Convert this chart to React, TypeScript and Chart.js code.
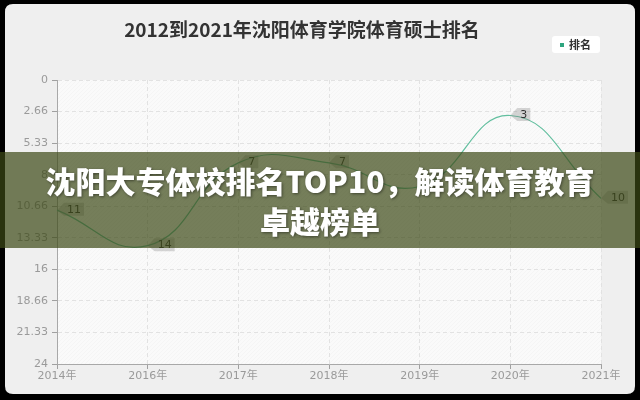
import React, { useEffect, useRef } from "react";
import { Chart, registerables } from "chart.js";

Chart.register(...registerables);

const TITLE = "2012到2021年沈阳体育学院体育硕士排名";
const SERIES_NAME = "排名";
const years = ["2014年", "2016年", "2017年", "2018年", "2019年", "2020年", "2021年"];
const ranks = [11, 14, 7, 7, 9, 3, 10];
const yTickValues = [0, 2.66, 5.33, 8, 10.66, 13.33, 16, 18.66, 21.33, 24];
const BANNER_LINE1 = "沈阳大专体校排名TOP10，解读体育教育";
const BANNER_LINE2 = "卓越榜单";

const TICK_FONT = '"DejaVu Sans", "Noto Sans CJK SC", sans-serif';
const CJK_FONT = '"Noto Sans CJK SC", "DejaVu Sans", sans-serif';

function roundRect(ctx: CanvasRenderingContext2D, x: number, y: number, w: number, h: number, r: number) {
  ctx.beginPath();
  ctx.moveTo(x + r, y);
  ctx.lineTo(x + w - r, y);
  ctx.quadraticCurveTo(x + w, y, x + w, y + r);
  ctx.lineTo(x + w, y + h - r);
  ctx.quadraticCurveTo(x + w, y + h, x + w - r, y + h);
  ctx.lineTo(x + r, y + h);
  ctx.quadraticCurveTo(x, y + h, x, y + h - r);
  ctx.lineTo(x, y + r);
  ctx.quadraticCurveTo(x, y, x + r, y);
  ctx.closePath();
}

const backgroundPlugin = {
  id: "bgDecor",
  beforeDraw(chart: any) {
    const { ctx, chartArea: a, width, height } = chart;
    ctx.save();
    ctx.fillStyle = "#000";
    ctx.fillRect(0, 0, width, height);
    roundRect(ctx, 5, 4, 630, 390, 8);
    ctx.fillStyle = "#efefef";
    ctx.fill();
    // plot area
    ctx.fillStyle = "#fafafa";
    ctx.fillRect(a.left, a.top, a.right - a.left, a.bottom - a.top);
    ctx.save();
    ctx.beginPath();
    ctx.rect(a.left, a.top, a.right - a.left, a.bottom - a.top);
    ctx.clip();
    ctx.strokeStyle = "rgba(0,0,0,0.018)";
    ctx.lineWidth = 1;
    ctx.beginPath();
    for (let s = a.left - (a.bottom - a.top); s < a.right; s += 4) {
      ctx.moveTo(s, a.bottom);
      ctx.lineTo(s + (a.bottom - a.top), a.top);
    }
    ctx.stroke();
    ctx.restore();
    // title
    ctx.fillStyle = "#333";
    ctx.font = `bold 19px ${CJK_FONT}`;
    ctx.textAlign = "center";
    ctx.textBaseline = "middle";
    ctx.fillText(TITLE, 302, 30);
    // legend
    roundRect(ctx, 552, 36, 48, 17, 3);
    ctx.fillStyle = "#ffffff";
    ctx.fill();
    ctx.fillStyle = "#2ea57f";
    ctx.fillRect(560, 43, 4, 4);
    ctx.fillStyle = "#333";
    ctx.font = `bold 11px ${CJK_FONT}`;
    ctx.textAlign = "left";
    ctx.fillText(SERIES_NAME, 569, 45);
    ctx.restore();
  },
};

const tagPlugin = {
  id: "pointTags",
  afterDatasetsDraw(chart: any) {
    const { ctx } = chart;
    const meta = chart.getDatasetMeta(0);
    const values = chart.data.datasets[0].data;
    ctx.save();
    ctx.font = `11px ${TICK_FONT}`;
    meta.data.forEach((pt: any, i: number) => {
      const x = pt.x;
      const y = pt.y;
      const txt = String(values[i]);
      const w = ctx.measureText(txt).width + 6;
      const h = 13;
      const bx = x + 7;
      const cy = y - 1;
      ctx.beginPath();
      ctx.moveTo(x, y);
      ctx.lineTo(bx, cy - h / 2);
      ctx.lineTo(bx + w, cy - h / 2);
      ctx.lineTo(bx + w, cy + h / 2);
      ctx.lineTo(bx, cy + h / 2);
      ctx.closePath();
      ctx.fillStyle = "rgba(130,130,130,0.32)";
      ctx.fill();
      ctx.fillStyle = "#333";
      ctx.textAlign = "center";
      ctx.textBaseline = "middle";
      ctx.fillText(txt, bx + w / 2, cy + 0.5);
    });
    ctx.restore();
  },
};

export default function App() {
  const canvasRef = useRef<HTMLCanvasElement | null>(null);

  useEffect(() => {
    if (!canvasRef.current) return;
    const chart = new Chart(canvasRef.current, {
      type: "line",
      data: {
        labels: years,
        datasets: [
          {
            label: SERIES_NAME,
            data: ranks,
            borderColor: "#62bf9f",
            borderWidth: 1.2,
            tension: 0.45,
            pointRadius: 0,
            pointHoverRadius: 0,
            fill: false,
          },
        ],
      },
      options: {
        responsive: false,
        animation: false,
        layout: { padding: { top: 80, right: 39, left: 0, bottom: 0 } },
        plugins: {
          legend: { display: false },
          title: { display: false },
          tooltip: { enabled: false },
        },
        scales: {
          x: {
            type: "category",
            offset: false,
            grid: { color: "#e2e2e2", tickColor: "#a0a0a0", tickLength: 5 },
            border: { color: "#a8a8a8", dash: [4, 3] },
            ticks: {
              color: "#9a9a9a",
              font: { size: 11, family: TICK_FONT },
              padding: 1,
              autoSkip: false,
              maxRotation: 0,
            },
            afterFit: (s: any) => {
              s.height = 36;
            },
          },
          y: {
            reverse: true,
            min: 0,
            max: 24,
            afterBuildTicks: (s: any) => {
              s.ticks = yTickValues.map((v) => ({ value: v }));
            },
            grid: { color: "#e2e2e2", tickColor: "#a0a0a0", tickLength: 5 },
            border: { color: "#a8a8a8", dash: [4, 3] },
            ticks: {
              color: "#9a9a9a",
              font: { size: 11, family: TICK_FONT },
              padding: 4,
              callback: (v: any) => String(v),
            },
            afterFit: (s: any) => {
              s.width = 57;
            },
          },
        },
      },
      plugins: [backgroundPlugin, tagPlugin],
    });
    return () => chart.destroy();
  }, []);

  return (
    <div style={{ position: "fixed", left: 0, top: 0, width: 640, height: 400 }}>
      <canvas ref={canvasRef} width={640} height={400} style={{ display: "block" }} />
      <div
        style={{
          position: "absolute",
          left: 0,
          top: 152,
          width: 640,
          height: 96,
          background: "rgba(60,72,22,0.7)",
          display: "flex",
          flexDirection: "column",
          alignItems: "center",
          justifyContent: "center",
          color: "#fff",
          fontFamily: CJK_FONT,
          fontWeight: 900,
          fontSize: 30,
          lineHeight: "40px",
          textShadow: "1px 1px 3px rgba(0,0,0,0.45)",
          textAlign: "center",
        }}
      >
        <div>{BANNER_LINE1}</div>
        <div>{BANNER_LINE2}</div>
      </div>
    </div>
  );
}
